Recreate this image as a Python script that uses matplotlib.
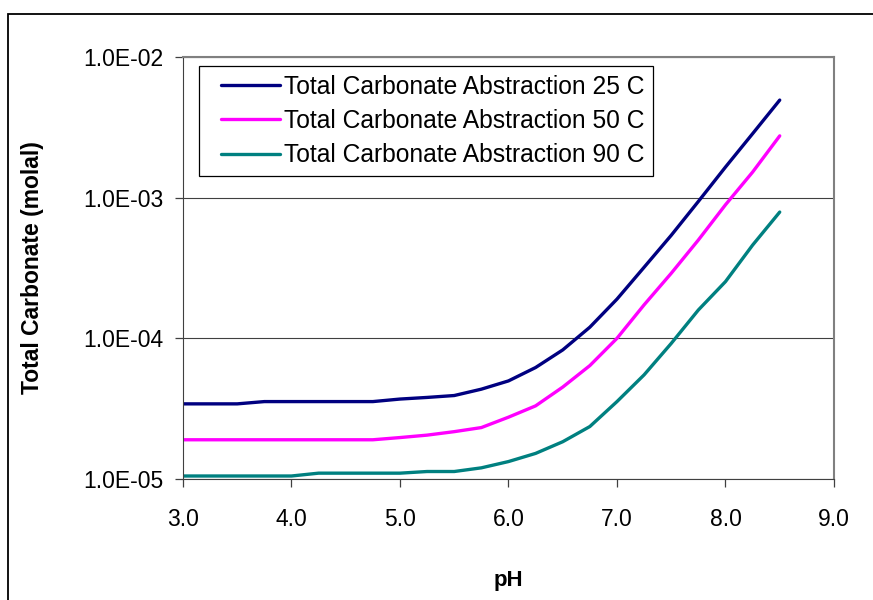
import matplotlib.pyplot as plt
import numpy as np
from matplotlib.ticker import FixedLocator, FuncFormatter, NullLocator
from matplotlib.patches import Rectangle
from matplotlib.legend_handler import HandlerLine2D

plt.rcParams['font.family'] = ['Liberation Sans', 'DejaVu Sans']

ph = [3.0, 3.25, 3.5, 3.75, 4.0, 4.25, 4.5, 4.75, 5.0, 5.25, 5.5, 5.75,
      6.0, 6.25, 6.5, 6.75, 7.0, 7.25, 7.5, 7.75, 8.0, 8.25, 8.5]

carb_25 = [3.42e-5, 3.42e-5, 3.42e-5, 3.55e-5, 3.55e-5, 3.55e-5, 3.55e-5, 3.55e-5,
           3.7e-5, 3.8e-5, 3.92e-5, 4.35e-5, 4.98e-5, 6.2e-5, 8.27e-5, 1.2e-4,
           1.9e-4, 3.2e-4, 5.4e-4, 9.4e-4, 1.65e-3, 2.85e-3, 4.94e-3]
carb_50 = [1.9e-5, 1.9e-5, 1.9e-5, 1.9e-5, 1.9e-5, 1.9e-5, 1.9e-5, 1.9e-5,
           1.97e-5, 2.05e-5, 2.17e-5, 2.32e-5, 2.75e-5, 3.31e-5, 4.5e-5, 6.4e-5,
           1.0e-4, 1.73e-4, 2.9e-4, 5.0e-4, 8.9e-4, 1.52e-3, 2.75e-3]
carb_90 = [1.05e-5, 1.05e-5, 1.05e-5, 1.05e-5, 1.05e-5, 1.1e-5, 1.1e-5, 1.1e-5,
           1.1e-5, 1.13e-5, 1.13e-5, 1.2e-5, 1.33e-5, 1.52e-5, 1.84e-5, 2.36e-5,
           3.55e-5, 5.5e-5, 9.2e-5, 1.59e-4, 2.53e-4, 4.6e-4, 7.9e-4]

labels = ["Total Carbonate Abstraction 25 C",
          "Total Carbonate Abstraction 50 C",
          "Total Carbonate Abstraction 90 C"]
colors = ['#000080', '#FF00FF', '#008080']

x_ticks = [3.0, 4.0, 5.0, 6.0, 7.0, 8.0, 9.0]
y_ticks = [1e-5, 1e-4, 1e-3, 1e-2]

fig = plt.figure(figsize=(8.73, 6.0), dpi=100)
ax = fig.add_axes([0.2096, 0.2017, 0.7457, 0.7033])

# outer chart border (cropped on right and bottom)
fig.patches.append(Rectangle((8/873, -0.1), 1.2, 1 - 14/600 + 0.1, transform=fig.transFigure,
                             fill=False, edgecolor='black', linewidth=1.3))

for ys, lab, c in zip([carb_25, carb_50, carb_90], labels, colors):
    ax.plot(ph, ys, color=c, linewidth=2.4, label=lab, solid_capstyle='round')

ax.set_yscale('log')
ax.set_xlim(3.0, 9.0)
ax.set_ylim(1e-5, 1e-2)
ax.yaxis.set_major_locator(FixedLocator(y_ticks))
ax.yaxis.set_minor_locator(NullLocator())
ax.yaxis.set_major_formatter(FuncFormatter(lambda v, p: "%.1E" % v))
ax.set_xticks(x_ticks)
ax.set_xticklabels(["%.1f" % t for t in x_ticks])

ax.grid(axis='y', color='#404040', linewidth=0.8)
ax.set_axisbelow(True)
ax.tick_params(axis='both', labelsize=16.5, direction='out', length=6, width=0.9, color='#404040')
ax.tick_params(axis='x', pad=15)
ax.tick_params(axis='y', pad=8)

for s in ['left', 'bottom']:
    ax.spines[s].set_color('#404040')
for s in ['top', 'right']:
    ax.spines[s].set_color('#808080')
    ax.spines[s].set_linewidth(1.5)

ax.set_xlabel("pH", fontsize=16, fontweight='bold', labelpad=28)
ax.set_ylabel("Total Carbonate (molal)", fontsize=16.5, fontweight='bold', labelpad=28)

leg = ax.legend(loc='upper left', bbox_to_anchor=(0.0246, 0.9787), borderaxespad=0,
                fontsize=17.7, fancybox=False, edgecolor='black', framealpha=1,
                handlelength=2.95, labelspacing=0.42, handletextpad=0.16, borderpad=0.35,
                handler_map={plt.Line2D: HandlerLine2D(xpad=0.55)})
leg.get_frame().set_linewidth(0.9)

fig.savefig("out.png", dpi=100)
